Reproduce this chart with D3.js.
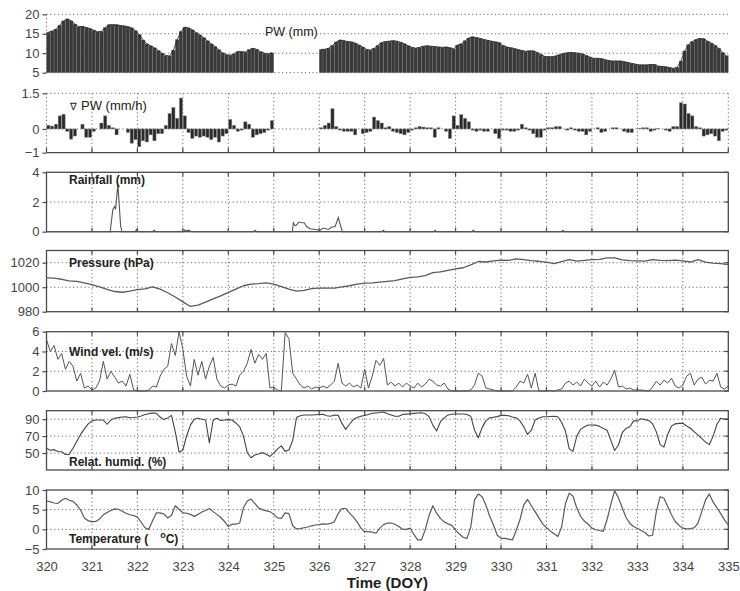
<!DOCTYPE html>
<html><head><meta charset="utf-8">
<script src="https://cdn.jsdelivr.net/npm/d3@7"></script>
<style>body{margin:0;background:#fff;} svg{display:block;}</style>
</head><body><svg id="c" width="740" height="591"></svg>
<script>
// ---------------- DATA ----------------
const dayTicks = [320,321,322,323,324,325,326,327,328,329,330,331,332,333,334,335];
// precipitable water, 2-hourly (12 per day), null = missing
const pw = [
15.4,15.7,16.2,17.2,18.3,18.8,18.3,17.5,16.8,16.9,16.6,16.3,
15.9,15.5,15.6,16.6,17.3,17.3,17.3,17.1,17.0,16.8,16.5,15.8,
14.8,13.4,12.4,11.9,11.4,10.7,10.0,9.4,9.3,10.8,13.5,15.6,
16.7,16.5,16.0,15.3,14.7,14.0,13.2,12.4,11.7,10.9,10.1,9.6,
9.5,9.8,10.4,10.4,10.3,10.9,11.3,11.0,10.4,10.0,9.8,10.1,
null,null,null,null,null,null,null,null,null,null,null,null,
11.0,11.0,11.3,12.0,12.9,13.4,13.2,13.0,12.9,12.6,12.1,11.6,
11.0,10.8,11.3,12.0,12.7,13.0,13.1,13.2,13.1,12.8,12.4,11.9,
11.5,11.3,11.5,11.8,11.9,11.8,11.7,11.6,11.5,11.6,11.4,11.1,
12.1,12.4,13.2,13.9,14.2,14.0,13.8,13.5,13.3,13.1,12.9,12.7,
12.0,11.6,11.4,11.2,10.9,10.7,10.5,10.6,10.6,10.2,9.7,9.2,
9.1,9.1,9.3,9.6,9.9,10.1,10.2,10.1,10.0,9.8,9.4,9.0,
8.7,8.7,8.6,8.3,8.1,8.0,8.0,8.0,7.8,7.6,7.4,7.2,
7.0,7.0,7.0,7.1,7.1,6.7,6.6,6.5,6.3,6.1,6.4,8.0,
10.6,12.2,13.0,13.5,13.8,13.7,13.1,12.6,12.0,11.3,10.2,9.4];
// PW tendency (mm/h), 2-hourly
const dpw = [
0.15,0.12,0.2,0.55,0.62,-0.1,-0.43,-0.3,0,0.2,-0.35,-0.35,
-0.1,0,0.25,0.55,0.15,0.05,-0.25,0,0,-0.15,-0.6,-0.45,
-0.75,-0.5,-0.55,-0.25,-0.5,-0.2,-0.2,0.15,0.65,0.9,0.45,1.3,
0.55,-0.15,-0.4,-0.3,-0.35,-0.3,-0.35,-0.45,-0.35,-0.55,-0.3,-0.2,
0.4,0.15,-0.1,-0.05,0.3,0.2,-0.35,-0.25,-0.2,-0.15,-0.05,0.35,
null,null,null,null,null,null,null,null,null,null,null,null,
0.05,0.15,0.25,0.85,0.1,-0.05,-0.1,-0.1,-0.1,-0.25,0,-0.2,
-0.15,-0.1,0.5,0.35,0.25,0.05,0.1,-0.1,-0.15,-0.2,-0.25,-0.15,
-0.05,0.05,0.1,0.08,0.05,0.05,-0.35,0.05,0,-0.1,-0.4,0.55,
0.15,0.6,0.45,0.3,-0.05,-0.1,-0.05,-0.1,-0.1,0,-0.2,-0.4,
-0.05,-0.05,-0.1,-0.1,-0.05,0.2,0.05,-0.05,-0.2,-0.35,-0.35,-0.05,
0.05,0.05,0.1,0.1,0,-0.05,0.05,-0.05,-0.1,-0.1,-0.25,-0.1,
0,0.05,-0.15,-0.1,0,0.05,0.05,0,-0.1,-0.15,-0.15,0,
0.02,0.05,0.05,-0.1,-0.05,0.02,0,-0.05,-0.1,0.1,0.1,1.1,
1.05,0.65,0.55,0.1,0.05,-0.3,-0.25,-0.2,-0.3,-0.5,-0.1,-0.05];
// rainfall (mm): time (DOY) / value pairs
const rainT = [320,321.40,321.46,321.50,321.52,321.57,321.60,321.63,321.66,321.95,321.98,322.01,322.34,322.37,322.40,
323.01,323.04,323.08,323.12,323.16,323.19,324.56,324.59,324.62,325.41,325.43,325.47,325.50,325.55,325.61,325.67,
325.72,325.80,325.91,326.02,326.09,326.20,326.27,326.35,326.42,326.47,326.51,327.38,327.41,327.44,328.52,328.55,
328.58,329.36,329.39,329.42,331.33,331.36,331.39,335];
const rainV = [0,0,1.5,1.7,1.5,3.2,1.8,0.4,0,0,0.15,0,0,0.1,0,
0,0.12,0.05,0.1,0.05,0,0,0.1,0,0,0.6,0.4,0.45,0.65,0.6,0.6,
0.35,0.2,0.15,0.1,0.25,0.15,0.3,0.35,0.95,0.4,0,0,0.1,0,0,0.1,
0,0,0.1,0,0,0.1,0,0];
// pressure (hPa), 4-hourly (6 per day)
const pressure = [
1007.6,1007.5,1006.5,1005.2,1004.7,1003.5,
1002.2,1000.3,998.3,996.5,995.9,996.8,
998.0,998.7,1000.3,998.5,995.5,992.0,
988.0,984.3,985.3,987.9,990.5,993.0,
995.8,998.5,1001.2,1002.5,1002.9,1003.6,
1002.5,1000.5,998.5,996.8,997.5,998.8,
999.3,999.2,999.3,1000.2,1001.2,1002.5,
1003.3,1003.6,1004.2,1004.8,1005.4,1006.8,
1008.1,1008.5,1009.5,1012.0,1012.5,1013.8,
1014.9,1015.9,1018.2,1021.0,1020.6,1021.5,
1022.2,1022.0,1023.2,1022.5,1021.7,1021.2,
1020.5,1019.3,1021.0,1022.5,1021.4,1022.0,
1022.5,1022.7,1024.0,1024.0,1022.3,1021.8,
1021.5,1021.3,1022.6,1022.0,1021.8,1022.2,
1021.5,1020.6,1022.5,1020.5,1019.7,1019.3,
1018.5];
// wind velocity (m/s), 2-hourly
const wind = [
5.2,4.0,4.6,3.2,3.8,2.2,3.0,2.5,1.0,1.8,0.3,0.5,
0.1,0.3,1.0,3.0,1.2,2.0,1.4,0.8,1.0,0.5,1.7,0.1,
0,0,0,0.1,0.5,0.4,1.5,2.2,2.5,4.8,3.6,6.0,
4.2,1.5,0.5,3.2,1.6,3.0,1.2,2.5,3.4,1.2,0.5,0.3,
0.6,0.7,0.5,1.6,2.0,2.8,4.2,2.8,3.7,3.2,3.8,0.3,
0.4,0.1,0.0,5.9,5.3,1.8,1.2,0.6,0.3,0.5,0.2,0.4,
0.3,0.5,0.3,0.6,1.0,2.8,0.8,0.5,0.8,0.4,0.6,0.3,
2.2,0.3,1.5,3.1,2.6,3.3,0.6,0.9,0.5,0.8,0.4,0.8,
0.5,0.3,0.8,0.4,0.7,1.2,1.0,0.6,0.5,0.8,0.2,0.0,
0,0,0,0,0.1,0.6,1.8,1.5,0.3,0.2,0.1,0,
0,0,0,0,0.4,1.0,0.8,1.7,0.3,1.8,0,0,
0,0.05,0,0.1,0.2,0.8,1.0,0.6,0.9,0.5,1.2,0.8,
0.5,1.0,0.4,0.9,0.6,1.2,2.1,0.4,0.5,0.2,0.3,0.1,
0.1,0.1,0.05,0,0.4,1.0,0.6,1.1,0.8,1.3,0.5,0.3,
0.6,1.5,1.8,0.6,1.2,1.4,0.7,1.1,1.0,1.8,0.4,0.2,
0.5];
// relative humidity (%), 2-hourly
const humidity = [
55.6,53.4,54,51.8,51.5,48.3,48.5,55.6,64,72,78.5,84.5,
88,89,89,89,84,89,91,91.8,92.5,92.8,91.7,92,
92.5,93.7,95.5,96.5,97.3,96.9,92.5,89.5,91.5,94.5,75,51,
53.6,70.5,83,90,91,90,89,62,89,91,88.5,89,
89.5,89,85.5,81,70,50.5,44.5,47.7,49,50.5,48.5,46,
50,55,58.5,52,53.6,65,92,94,94.9,94.9,94.9,95.2,
95.5,95.7,94,93.5,95,94.5,85,78,84,89.5,92,93.5,
94.5,95.5,96.9,97.3,97.8,98.5,96.5,95,93.5,93.5,95.5,96,
96.1,96.8,97.2,97.5,96.5,93,83,76,87,91.5,95,95.8,
96.1,96.1,96.1,95.5,93.5,77,68,80,88,91.5,92.3,93,
94.5,94.5,94,92.5,91.5,88,81,72,77,89,91.5,92.9,
92.9,93.2,93.5,92.8,86,76,55,52,70,78,81,83.1,
83.1,83,81.5,79,77,65,53,59.5,74,79,81,88,
88,90.5,89.5,88.5,84.5,75,60,57,72,82,84.5,85,
85.1,82,79.3,75,71.5,67,63,60,70,84,91,90,
89.8];
// temperature (degC), 2-hourly
const temperature = [
7.2,7.0,6.7,6.6,7.4,7.9,7.4,7.1,6.2,4.9,2.9,2.2,
1.9,2.0,2.6,3.7,4.3,4.8,5.2,5.1,4.6,4.1,3.7,3.5,
3.1,1.8,0.4,0,2.2,4.2,4.2,3.9,2.9,3.6,6.0,5.1,
4.2,4.1,3.8,3.3,3.8,4.4,4.8,5.3,4.5,3.8,3.0,2.0,
0.7,1.3,1.3,1.6,5.5,7.2,7.7,6.6,5.4,5.0,4.7,4.5,
3.8,2.9,2.8,4.2,4.0,0.9,0.1,0.2,0.4,0.6,0.9,1.1,
1.2,1.4,1.3,1.5,1.9,4.0,5.3,5.3,4.1,3.1,1.9,0.3,
-0.6,-0.6,-0.7,-1.0,0.3,1.2,1.6,1.6,1.3,0.7,0.0,0.0,
0.3,-1.3,-2.7,-2.7,0,3.5,6.0,4.1,2.8,1.9,1.4,1.0,
-0.2,-1.2,-2.0,-2.3,0.5,7.5,9.0,8.3,6.2,3.3,1.1,-1.5,
-2.3,-2.3,-2.5,-2.7,-0.3,2.5,6.2,7.6,6.0,4.5,2.9,1.4,
0.4,-0.4,-1.1,-1.8,0.6,6.5,9.2,8.4,5.4,3.3,2.1,1.3,
0.3,-0.1,-0.3,-0.5,2.5,6.4,9.8,8.0,5.5,3.0,1.5,0.7,
0.2,-0.3,-0.8,-1.7,-1.5,4.5,8.3,7.9,5.8,3.7,2.0,1.0,
0.3,0.1,0.2,0.4,1.6,4.5,7.5,9.0,6.9,5.5,4.0,2.4,
1.1];
const pwTicks = [5,10,15,20];
const dpwTicks = [-1,0,1.5];
const rainTicks = [0,2,4];
const presTicks = [980,1000,1020];
const windTicks = [0,2,4,6];
const humTicks = [50,70,90];
const tempTicks = [-5,0,5,10];

// ---------------- DRAWING ----------------
const FONT = '"Liberation Sans", Arial, Helvetica, sans-serif';
const svg = d3.select("#c");
const X0 = 46.5, X1 = 728.3;
const x = d3.scaleLinear().domain([320,335]).range([X0,X1]);
const mkY = (dom, top, bottom) => d3.scaleLinear().domain(dom).range([bottom, top]);
const yPW = mkY([5,20],14.3,72.7);
const yD  = mkY([-1,1.5],93.3,152.7);
const yR  = mkY([0,4],172.3,231.7);
const yP  = mkY([980,1030],250.5,311.7);
const yW  = mkY([0,6],331.7,391);
const yH  = mkY([30,100],410.7,470);
const yT  = mkY([-5,10],490,549);

const GRID = "#6a6a6a", FRAME = "#4a4a4a", LINE = "#555";
const dotted = s => s.attr("stroke",GRID).attr("stroke-width",1).attr("stroke-dasharray","1.2,2.6").attr("fill","none");

function hLine(y, v, solid){
  const l = svg.append("line").attr("x1",X0).attr("x2",X1).attr("y1",y(v)).attr("y2",y(v));
  if(solid) l.attr("stroke",FRAME).attr("stroke-width",1.3); else dotted(l);
}
function vGrid(y, inner){
  const [b,t] = y.range();
  const ds = inner ? dayTicks.slice(1,-1) : dayTicks;
  svg.append("g").selectAll("line").data(ds).join("line")
    .attr("x1",d=>x(d)).attr("x2",d=>x(d)).attr("y1",t).attr("y2",b).call(dotted);
}
function yAxis(y, ticks){
  const g = svg.append("g").attr("transform",`translate(${X0},0)`)
    .call(d3.axisLeft(y).tickValues(ticks).tickSize(4).tickPadding(3).tickFormat(d3.format("")));
  g.attr("font-family",FONT).attr("font-size",13);
  g.select(".domain").remove();
  g.selectAll(".tick line").attr("stroke",FRAME).attr("stroke-width",1.2);
  g.selectAll(".tick text").attr("fill","#444");
}
function frame(y, ticks){
  const [b,t] = y.range();
  svg.append("rect").attr("x",X0).attr("y",t).attr("width",X1-X0).attr("height",b-t)
    .attr("fill","none").attr("stroke",FRAME).attr("stroke-width",1.3);
  const g = svg.append("g");
  g.selectAll("line.tb").data(dayTicks.slice(1,-1)).join("line")
    .attr("x1",d=>x(d)).attr("x2",d=>x(d)).attr("y1",b).attr("y2",b-4)
    .attr("stroke",FRAME).attr("stroke-width",1.2);
  g.selectAll("line.tt").data(dayTicks.slice(1,-1)).join("line")
    .attr("x1",d=>x(d)).attr("x2",d=>x(d)).attr("y1",t).attr("y2",t+4)
    .attr("stroke",FRAME).attr("stroke-width",1.2);
  g.selectAll("line.tr").data(ticks).join("line")
    .attr("x1",X1).attr("x2",X1-4).attr("y1",d=>y(d)).attr("y2",d=>y(d))
    .attr("stroke",FRAME).attr("stroke-width",1.2);
}
function seriesLine(vals, perDay, y, color, w){
  const line = d3.line().defined(v=>v!=null).x((v,i)=>x(320+i/perDay)).y(v=>y(v));
  svg.append("path").datum(vals).attr("d",line).attr("fill","none")
    .attr("stroke",color||LINE).attr("stroke-width",w||1.1).attr("stroke-linejoin","round");
}
function label(txt, lx, ly, bold, size){
  return svg.append("text").attr("x",lx).attr("y",ly).attr("font-family",FONT)
    .attr("font-size",size||12).attr("font-weight",bold?"bold":"normal").attr("fill","#222").text(txt);
}

// ---- Panel 1: PW bars ----
pwTicks.forEach(v=>hLine(yPW,v,false));
svg.append("line").attr("x1",X0).attr("x2",X0).attr("y1",yPW(20)).attr("y2",yPW(5)).call(dotted);
yAxis(yPW, pwTicks);
svg.append("g").selectAll("rect").data(pw.map((v,i)=>({v,i})).filter(d=>d.v!=null)).join("rect")
  .attr("x",d=>x(320+d.i/12)).attr("width",d=>x(320+(d.i+1)/12)-x(320+d.i/12))
  .attr("y",d=>yPW(d.v)).attr("height",d=>yPW(5)-yPW(d.v))
  .attr("fill","#3a3a3a").attr("stroke","#7c7c7c").attr("stroke-width",0.35);
svg.append("path").datum(pw).attr("fill","none").attr("stroke","#222").attr("stroke-width",0.8)
  .attr("d",d3.line().defined(v=>v!=null).x((v,i)=>x(320+(i+0.5)/12)).y(v=>yPW(v)));
label("PW (mm)",265,36,false,12.5);

// ---- Panel 2: dPW bars ----
vGrid(yD,false);
hLine(yD,1.5,false); hLine(yD,0,false); hLine(yD,-1,true);
svg.append("g").selectAll("line").data(dayTicks).join("line")
  .attr("x1",d=>x(d)).attr("x2",d=>x(d)).attr("y1",yD(-1)).attr("y2",yD(-1)-5)
  .attr("stroke",FRAME).attr("stroke-width",1.2);
yAxis(yD, dpwTicks);
svg.append("g").selectAll("rect").data(dpw.map((v,i)=>({v,i})).filter(d=>d.v!=null && d.v!==0)).join("rect")
  .attr("x",d=>x(320+d.i/12)+0.3).attr("width",d=>x(320+(d.i+1)/12)-x(320+d.i/12)-0.6)
  .attr("y",d=>yD(Math.max(0,d.v))).attr("height",d=>Math.abs(yD(d.v)-yD(0)))
  .attr("fill","#2a2a2a").attr("stroke","#8a8a8a").attr("stroke-width",0.5);
const nab = label("",70,110,false,13);
nab.append("tspan").attr("font-size",10).text("\u2207");
nab.append("tspan").attr("dx",4).text("PW (mm/h)");

// ---- Panels 3-7 ----
function framedPanel(y, ticks, gridVals){
  vGrid(y,true);
  gridVals.forEach(v=>hLine(y,v,false));
  frame(y,ticks);
  yAxis(y,ticks);
}
framedPanel(yR, rainTicks, [2]);
svg.append("path").datum(d3.zip(rainT,rainV)).attr("fill","none").attr("stroke",LINE).attr("stroke-width",1.1)
  .attr("d",d3.line().x(d=>x(d[0])).y(d=>yR(d[1])));
label("Rainfall (mm)",69,184,true);

framedPanel(yP, presTicks, [1000,1020]);
seriesLine(pressure,6,yP,"#5a5a5a",1.3);
label("Pressure (hPa)",69,266.5,true);

framedPanel(yW, windTicks, [2,4]);
seriesLine(wind,12,yW,LINE,1.0);
label("Wind vel. (m/s)",69,355.5,true);

framedPanel(yH, humTicks, [50,70,90]);
seriesLine(humidity,12,yH,"#444",1.1);
label("Relat. humid. (%)",69,465.5,true);

framedPanel(yT, tempTicks, [0,5]);
seriesLine(temperature,12,yT,"#5a5a5a",1.2);
const tl = label("Temperature (",69,543,true);
tl.append("tspan").attr("dx",12).attr("dy",-5).attr("font-size",9).text("o");
tl.append("tspan").attr("dy",5).text("C)");

// ---- X axis ----
const xg = svg.append("g").attr("transform",`translate(0,${yT(-5)})`)
  .call(d3.axisBottom(x).tickValues(dayTicks).tickSize(0).tickPadding(13).tickFormat(d3.format("")));
xg.attr("font-family",FONT).attr("font-size",13);
xg.select(".domain").remove();
xg.selectAll(".tick text").attr("fill","#444");
svg.append("text").attr("x",(X0+X1)/2).attr("y",588).attr("text-anchor","middle")
  .attr("font-family",FONT).attr("font-size",15).attr("font-weight","bold").attr("fill","#222").text("Time (DOY)");
</script>
</body></html>
